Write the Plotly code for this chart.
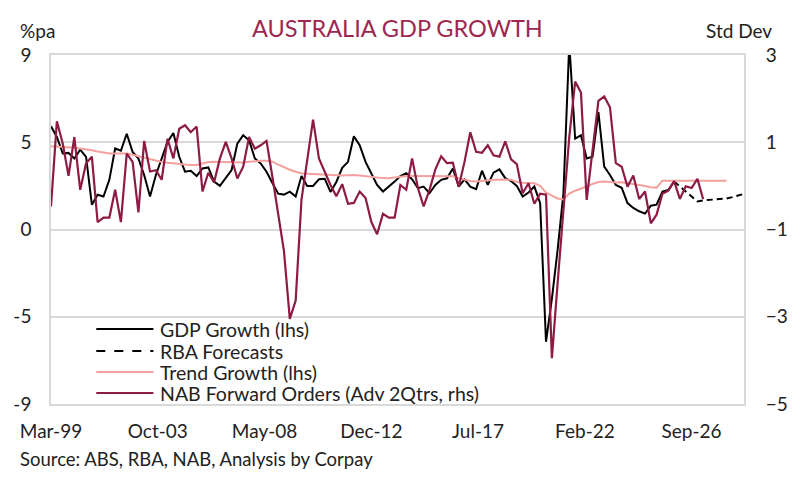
import pandas as pd
import plotly.graph_objects as go

# --- dados (trimestrais, Mar-99 em diante) ---
gdp_growth = [
    5.32, 4.77, 3.92, 3.95, 3.66, 4.12, 3.75, 1.28, 1.79, 1.70,
    2.56, 4.18, 4.06, 4.94, 4.00, 3.66, 2.81, 1.70, 2.81, 3.66,
    4.52, 4.98, 3.75, 2.98, 3.03, 2.76, 3.15, 3.20, 2.47, 2.25,
    2.64, 3.07, 4.43, 4.86, 4.60, 3.66, 3.41, 2.98, 2.40, 1.85,
    1.80, 1.95, 1.70, 2.76, 2.25, 2.25, 2.59, 2.62, 1.94, 2.45,
    3.18, 3.49, 4.81, 4.35, 3.49, 2.90, 2.30, 1.96, 2.21, 2.47,
    2.76, 2.90, 2.59, 2.13, 2.21, 1.87, 2.30, 2.56, 2.64, 3.15,
    2.21, 2.59, 2.21, 2.08, 3.03, 2.30, 2.93, 3.10, 2.65, 2.50,
    2.25, 1.70, 1.91, 2.22, 1.36, -5.79, -3.58, -1.02, 1.87, 9.60,
    4.69, 4.86, 3.66, 3.75, 6.05, 3.24, 2.81, 2.30, 2.15, 1.36,
    1.11, 0.94, 0.82, 1.23, 1.28, 1.96, 2.04, 2.47,
]

# previsões do RBA (começa no último dado observado)
rba_forecast = [2.47, 2.22, 1.96, 1.70, 1.45, 1.50, 1.53, 1.55, 1.57, 1.60, 1.67, 1.74, 1.84]

trend_growth = [
    4.29, 4.28, 4.27, 4.25, 4.22, 4.18, 4.14, 4.09, 4.02, 3.95,
    3.92, 3.92, 3.92, 3.92, 3.86, 3.78, 3.70, 3.62, 3.53, 3.48,
    3.44, 3.40, 3.37, 3.35, 3.33, 3.33, 3.40, 3.48, 3.49, 3.48,
    3.46, 3.45, 3.44, 3.46, 3.49, 3.52, 3.54, 3.54, 3.50, 3.35,
    3.20, 3.08, 2.98, 2.90, 2.88, 2.86, 2.84, 2.82, 2.81, 2.78,
    2.78, 2.80, 2.81, 2.78, 2.74, 2.70, 2.67, 2.65, 2.64, 2.68,
    2.73, 2.76, 2.76, 2.76, 2.76, 2.76, 2.76, 2.76, 2.76, 2.74,
    2.65, 2.56, 2.50, 2.47, 2.50, 2.54, 2.56, 2.56, 2.58, 2.56,
    2.45, 2.41, 2.40, 2.39, 2.25, 1.90, 1.75, 1.60, 1.55, 1.85,
    2.00, 2.10, 2.22, 2.35, 2.45, 2.48, 2.46, 2.42, 2.44, 2.40,
    2.35, 2.30, 2.24, 2.18, 2.16, 2.52, 2.52, 2.52, 2.52, 2.52,
    2.52, 2.52, 2.52, 2.52, 2.52, 2.52, 2.52,
]

nab_orders = [
    -0.47, 1.48, 0.97, 0.23, 1.12, -0.09, 0.52, 0.67, -0.83, -0.73,
    -0.73, -0.09, -0.83, 0.74, 0.55, -0.61, 1.03, 0.33, 0.36, 0.14,
    1.08, 0.63, 1.31, 1.39, 1.23, 1.36, -0.13, 0.30, 0.08, 0.63,
    1.01, 0.63, 0.17, 0.44, 1.12, 0.85, 0.93, 1.03, 0.21, -0.62,
    -1.49, -3.05, -2.63, -0.32, 0.58, 1.52, 0.63, 0.33, 0.02, -0.24,
    0.04, -0.41, -0.39, -0.13, -0.28, -0.83, -1.11, -0.64, -0.73, -0.73,
    0.02, -0.09, 0.63, -0.05, -0.47, -0.09, 0.38, 0.68, 0.52, 0.53,
    -0.02, 0.55, 1.23, 0.78, 0.76, 0.93, 0.70, 0.67, 1.02, 0.61,
    0.50, -0.17, 0.06, -0.41, -0.18, -0.20, -3.95, -2.21, -0.55, 1.12,
    2.39, 2.14, -0.32, 0.86, 1.95, 2.05, 1.80, 0.52, 0.44, -0.02,
    0.24, -0.30, -0.13, -0.86, -0.66, -0.18, -0.11, 0.11, -0.30, -0.01,
    -0.05, 0.16, -0.30,
]

tick_dates = ["1999-03-01", "2003-10-01", "2008-05-01", "2012-12-01",
              "2017-07-01", "2022-02-01", "2026-09-01"]
tick_labels = ["Mar-99", "Oct-03", "May-08", "Dec-12", "Jul-17", "Feb-22", "Sep-26"]

left_ticks = [-9, -4.5, 0, 4.5, 9]
left_labels = ["-9", "-5", "0", "5", "9"]
right_ticks = [-5, -3, -1, 1, 3]

quarters = pd.date_range("1999-03-01", periods=120, freq="3MS")
rba_start = len(gdp_growth) - 1

# --- cores ---
BLACK = "#000000"
MAROON = "#8E1B45"
TITLE_COLOR = "#9E2750"
PINK = "#F4A19D"
GRID = "#D9D9D9"
TEXT = "#222222"
FONT = "Lato"

# geometria da área do gráfico (px)
W, H = 800, 478
L_M, R_M, T_M, B_M = 51, 45, 55, 74
PW, PH = W - L_M - R_M, H - T_M - B_M


def px_x(px):
    return (px - L_M) / PW


def px_y(py):
    return (H - B_M - py) / PH


fig = go.Figure()
fig.add_trace(go.Scatter(x=quarters[:len(gdp_growth)], y=gdp_growth, mode="lines",
                         line=dict(color=BLACK, width=2), name="GDP Growth (lhs)"))
fig.add_trace(go.Scatter(x=quarters[rba_start:rba_start + len(rba_forecast)], y=rba_forecast,
                         mode="lines", line=dict(color=BLACK, width=2, dash="6px,4px"),
                         name="RBA Forecasts"))
fig.add_trace(go.Scatter(x=quarters[:len(trend_growth)], y=trend_growth, mode="lines",
                         line=dict(color=PINK, width=2), name="Trend Growth (lhs)"))
fig.add_trace(go.Scatter(x=quarters[:len(nab_orders)], y=nab_orders, mode="lines",
                         line=dict(color=MAROON, width=2.2), yaxis="y2",
                         name="NAB Forward Orders (Adv 2Qtrs, rhs)"))

fig.update_layout(
    width=W, height=H,
    margin=dict(l=L_M, r=R_M, t=T_M, b=B_M),
    paper_bgcolor="white", plot_bgcolor="white",
    font=dict(family=FONT, color=TEXT, size=19),
    showlegend=False,
    xaxis=dict(type="date", range=[quarters[0], quarters[119]],
               tickvals=tick_dates, ticktext=tick_labels,
               showgrid=False, showline=True, mirror=True, linecolor=GRID, linewidth=1.5,
               ticks="outside", ticklen=9, tickcolor="rgba(0,0,0,0)",
               tickfont=dict(size=19), zeroline=False, fixedrange=True),
    yaxis=dict(range=[-9, 9], tickvals=left_ticks, ticktext=left_labels,
               showgrid=True, gridcolor=GRID, gridwidth=1.5, zeroline=False,
               showline=True, mirror=True, linecolor=GRID, linewidth=1.5,
               ticks="outside", ticklen=14, tickcolor="rgba(0,0,0,0)",
               tickfont=dict(size=19), fixedrange=True),
    yaxis2=dict(range=[-5, 3], tickvals=right_ticks, overlaying="y", side="right",
                showgrid=False, zeroline=False, showline=False,
                ticks="outside", ticklen=17, tickcolor="rgba(0,0,0,0)",
                tickfont=dict(size=19), fixedrange=True),
)

# título e textos soltos
fig.add_annotation(text="AUSTRALIA GDP GROWTH", x=px_x(403), y=px_y(28), xref="paper", yref="paper",
                   xanchor="center", yanchor="middle", showarrow=False,
                   font=dict(size=23.5, color=TITLE_COLOR))
fig.add_annotation(text="%pa", x=px_x(17), y=px_y(31), xref="paper", yref="paper",
                   xanchor="left", yanchor="middle", showarrow=False, font=dict(size=19))
fig.add_annotation(text="Std Dev", x=px_x(785), y=px_y(31), xref="paper", yref="paper",
                   xanchor="right", yanchor="middle", showarrow=False, font=dict(size=19))
fig.add_annotation(text="Source: ABS, RBA, NAB, Analysis by Corpay", x=px_x(17), y=px_y(459),
                   xref="paper", yref="paper", xanchor="left", yanchor="middle",
                   showarrow=False, font=dict(size=18.5))

# legenda desenhada à mão (traços mais longos que os do plotly)
legend_rows = [
    ("GDP Growth (lhs)", BLACK, None),
    ("RBA Forecasts", BLACK, "dash"),
    ("Trend Growth (lhs)", PINK, None),
    ("NAB Forward Orders (Adv 2Qtrs, rhs)", MAROON, None),
]
row_y = [329, 351, 372, 393]
for (label, color, dash), py in zip(legend_rows, row_y):
    fig.add_shape(type="line", xref="paper", yref="paper",
                  x0=px_x(97), x1=px_x(155), y0=px_y(py), y1=px_y(py),
                  line=dict(color=color, width=2.2, dash=dash or "solid"))
    fig.add_annotation(text=label, x=px_x(160), y=px_y(py), xref="paper", yref="paper",
                       xanchor="left", yanchor="middle", showarrow=False,
                       font=dict(size=19.5, color=TEXT))

# sem a margem padrão do body a figura ocupa a janela 800x478 inteira
fig.write_html("out.html", config={"displayModeBar": False},
               post_script="document.body.style.margin='0';document.body.style.overflow='hidden';")
